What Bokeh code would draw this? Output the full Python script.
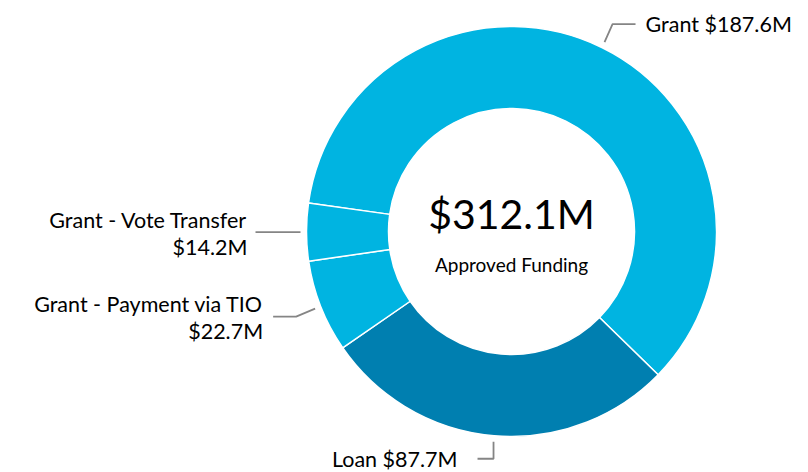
import math
from bokeh.plotting import figure
from bokeh.models import Range1d, ColumnDataSource
from bokeh.core.properties import value
from bokeh.embed import file_html
from bokeh.resources import INLINE

# ---------------- data ----------------
categories = ["Grant", "Loan", "Grant - Payment via TIO", "Grant - Vote Transfer"]
amounts = [187.6, 87.7, 22.7, 14.2]
value_labels = ["$187.6M", "$87.7M", "$22.7M", "$14.2M"]
total_label = "$312.1M"
center_caption = "Approved Funding"

# ---------------- style / layout ----------------
colors = ["#00B4E1", "#007FB0", "#00B4E1", "#00B4E1"]
FONT = "Lato"
W, H = 808, 472
CX, CY = 511, 231            # donut centre in page pixels
START_DEG = 172.0            # angle where first slice starts (clockwise)
R_IN, R_OUT = 123, 205
LEADER_R = 211
LINE_COLOR = "#858585"
# leader geometry per slice: elbow offset (dx, dy), horizontal segment length
elbow = [(8, 18), (0, -17), (-19, -8), (0, 0)]
hseg = [23, -16, -23, -45]
# label placement relative to end of leader
label_dx = [10, -20, -10, -8]
two_line = [False, False, True, True]
line_dy = [(0, 0), (0, 0), (13, -14), (12, -15)]

p = figure(width=W, height=H, output_backend="svg", toolbar_location=None,
           x_range=Range1d(-CX, W - CX), y_range=Range1d(CY - H, CY),
           min_border=0, outline_line_color=None)
p.axis.visible = False
p.grid.visible = False
p.background_fill_color = "white"
p.border_fill_color = "white"

total = sum(amounts)
starts, ends, mids = [], [], []
a = math.radians(START_DEG)
for v in amounts:
    span = v / total * 2 * math.pi
    starts.append(a)
    ends.append(a - span)
    mids.append(a - span / 2)
    a -= span

src = ColumnDataSource(dict(start=starts, end=ends, color=colors))
p.annular_wedge(x=0, y=0, inner_radius=R_IN, outer_radius=R_OUT,
                start_angle="start", end_angle="end", direction="clock",
                fill_color="color", line_color="white", line_width=1.5, source=src)

# leaders + labels
tx, ty, tt, ta = [], [], [], []
for i, m in enumerate(mids):
    x0 = LEADER_R * math.cos(m)
    y0 = LEADER_R * math.sin(m)
    x1, y1 = x0 + elbow[i][0], y0 + elbow[i][1]
    x2, y2 = x1 + hseg[i], y1
    p.line([x0, x1, x2], [y0, y1, y2], line_color=LINE_COLOR, line_width=1.8)
    align = "left" if hseg[i] > 0 else "right"
    lx = x2 + label_dx[i]
    if two_line[i]:
        parts = [categories[i], value_labels[i]]
    else:
        parts = [categories[i] + " " + value_labels[i]]
    for k, s in enumerate(parts):
        tx.append(lx)
        ty.append(y2 + line_dy[i][k])
        tt.append(s)
        ta.append(align)

p.text(x=tx, y=ty, text=tt, text_align=ta, text_baseline="middle",
       text_font=value(FONT), text_font_size="21.5px", text_color="#000000")

p.text(x=[0], y=[CY - 213], text=[total_label], text_align="center", text_baseline="middle",
       text_font=value(FONT), text_font_size="41px", text_color="#000000")
p.text(x=[0], y=[CY - 264], text=[center_caption], text_align="center", text_baseline="middle",
       text_font=value(FONT), text_font_size="19px", text_color="#000000")

open("out.html", "w").write(file_html(p, INLINE))
